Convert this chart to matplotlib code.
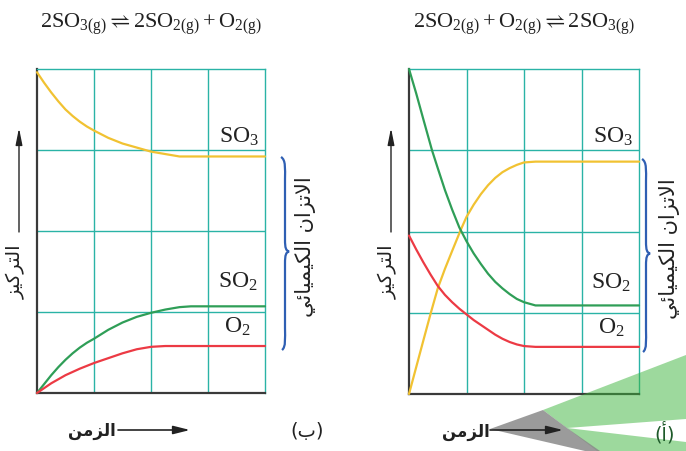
import matplotlib
matplotlib.use("Agg")
import matplotlib.pyplot as plt
from matplotlib.path import Path
from matplotlib.patches import PathPatch, Polygon

plt.rcParams['mathtext.fontset'] = 'custom'
plt.rcParams['mathtext.rm'] = 'Liberation Serif'
plt.rcParams['mathtext.it'] = 'Liberation Serif:italic'
plt.rcParams['mathtext.bf'] = 'Liberation Serif:bold'
plt.rcParams['mathtext.fallback'] = 'stix'

# ---------------- data ----------------
# panel (ب): 2SO3 -> 2SO2 + O2
b_so3_t = [0, 0.125, 0.25, 0.375, 0.5, 0.625, 0.75, 0.875, 1.0, 1.25, 1.5, 1.75, 2.0, 2.25, 2.5, 4.0]
b_so3_c = [3.96, 3.83, 3.71, 3.60, 3.50, 3.42, 3.35, 3.29, 3.24, 3.15, 3.08, 3.03, 2.98, 2.95, 2.92, 2.92]
b_so2_t = [0, 0.125, 0.25, 0.375, 0.5, 0.625, 0.75, 0.875, 1.0, 1.25, 1.5, 1.75, 2.0, 2.25, 2.5, 2.7, 4.0]
b_so2_c = [0, 0.11, 0.22, 0.32, 0.41, 0.49, 0.56, 0.62, 0.67, 0.78, 0.87, 0.94, 0.99, 1.03, 1.06, 1.07, 1.07]
b_o2_t = [0, 0.125, 0.25, 0.375, 0.5, 0.625, 0.75, 0.875, 1.0, 1.125, 1.25, 1.375, 1.5,
          1.625, 1.75, 1.875, 2.0, 2.25, 4.0]
b_o2_c = [0, 0.06, 0.12, 0.17, 0.22, 0.26, 0.30, 0.335, 0.37, 0.40, 0.43, 0.46, 0.49,
          0.515, 0.54, 0.555, 0.57, 0.58, 0.58]

# panel (أ): 2SO2 + O2 -> 2SO3
a_so3_t = [0, 0.125, 0.25, 0.38, 0.5, 0.625, 0.75, 0.9, 1.0, 1.125, 1.25, 1.375, 1.5, 1.625,
           1.75, 1.875, 2.0, 2.2, 4.0]
a_so3_c = [0, 0.33, 0.66, 1.0, 1.3, 1.54, 1.76, 2.02, 2.18, 2.33, 2.46, 2.57, 2.66, 2.73,
           2.78, 2.82, 2.85, 2.86, 2.86]
a_so2_t = [0, 0.125, 0.25, 0.4, 0.5, 0.625, 0.75, 0.875, 1.0, 1.125, 1.25, 1.375, 1.5, 1.625,
           1.75, 1.875, 2.0, 2.2, 4.0]
a_so2_c = [4.0, 3.7, 3.38, 3.0, 2.78, 2.51, 2.27, 2.05, 1.88, 1.73, 1.6, 1.48, 1.38, 1.30,
           1.23, 1.17, 1.13, 1.09, 1.09]
a_o2_t = [0, 0.125, 0.25, 0.375, 0.5, 0.625, 0.75, 0.875, 1.0, 1.125, 1.25, 1.375, 1.5, 1.625,
          1.75, 1.875, 2.0, 2.2, 4.0]
a_o2_c = [1.95, 1.78, 1.62, 1.47, 1.33, 1.22, 1.13, 1.05, 0.98, 0.91, 0.85, 0.79, 0.73, 0.68,
          0.64, 0.61, 0.59, 0.58, 0.58]

title_b = r'$\mathrm{2SO_{3(g)}\rightleftharpoons 2SO_{2(g)}+O_{2(g)}}$'
title_a = r'$\mathrm{2SO_{2(g)}+O_{2(g)}\rightleftharpoons 2SO_{3(g)}}$'
lbl_so3 = r'$\mathrm{SO_3}$'
lbl_so2 = r'$\mathrm{SO_2}$'
lbl_o2 = r'$\mathrm{O_2}$'

# Arabic (presentation forms, visual order)
txt_conc = "\uFEB0\uFEF4\uFEDB\uFEAE\uFE98\uFEDF\uFE8D"          # التركيز
txt_time = "\uFEE6\uFEE3\uFEB0\uFEDF\uFE8D"                      # الزمن
txt_eq = ("\uFEF2\uFE8B\uFE8E\uFEF4\uFEE4\uFEF4\uFEDC\uFEDF\uFE8D"
          " \uFEE5\uFE8D\uFEB0\uFE97\uFEFB\uFE8D")               # الاتزان الكيميائي
txt_b = "(\uFE8F)"
txt_a = "(\uFE83)"

YEL = '#f1c232'
GRN = '#2f9e57'
RED = '#ec3a44'
TEAL = '#2ab3a6'
BLUE = '#2f5fb3'

W, H = 686, 451
fig = plt.figure(figsize=(W / 100, H / 100), dpi=100)
fig.patch.set_facecolor('white')

def make_panel(x0, x1, y0, y1):
    ax = fig.add_axes([x0 / W, 1 - y1 / H, (x1 - x0) / W, (y1 - y0) / H])
    ax.set_xlim(0, 4)
    ax.set_ylim(0, 4)
    ax.set_xticks([])
    ax.set_yticks([])
    for v in [1, 2, 3]:
        ax.axvline(v, color=TEAL, lw=1.0, zorder=1)
        ax.axhline(v, color=TEAL, lw=1.0, zorder=1)
    for s in ['top', 'right']:
        ax.spines[s].set_color(TEAL)
        ax.spines[s].set_linewidth(1.0)
    for s in ['left', 'bottom']:
        ax.spines[s].set_color('#3a3a3a')
        ax.spines[s].set_linewidth(1.6)
    ax.patch.set_alpha(0)
    return ax

axb = make_panel(37, 265, 69, 393)
axa = make_panel(409, 639, 69, 394)

kw = dict(lw=1.6, zorder=3, clip_on=False, solid_joinstyle='round', solid_capstyle='round')
axb.plot(b_so3_t, b_so3_c, color=YEL, **kw)
axb.plot(b_so2_t, b_so2_c, color=GRN, **kw)
axb.plot(b_o2_t, b_o2_c, color=RED, **kw)

axa.plot(a_so3_t, a_so3_c, color=YEL, **kw)
axa.plot(a_so2_t, a_so2_c, color=GRN, **kw)
axa.plot(a_o2_t, a_o2_c, color=RED, **kw)

for ax in (axb, axa):
    ax.text(3.2, 3.09, lbl_so3, fontsize=17, color='#222', ha='left', va='baseline', zorder=4)
    ax.text(3.17, 1.30, lbl_so2, fontsize=17, color='#222', ha='left', va='baseline', zorder=4)
    ax.text(3.28, 0.74, lbl_o2, fontsize=17, color='#222', ha='left', va='baseline', zorder=4)

# overlay in pixel coords
ov = fig.add_axes([0, 0, 1, 1], zorder=10)
ov.set_xlim(0, W)
ov.set_ylim(H, 0)
ov.axis('off')
ov.patch.set_alpha(0)

ov.text(151, 24, title_b, fontsize=16, ha='center', va='center', color='#222')
ov.text(524, 24, title_a, fontsize=16, ha='center', va='center', color='#222')

def up_arrow(x):
    ov.annotate('', xy=(x, 128), xytext=(x, 232),
                arrowprops=dict(arrowstyle='-|>,head_length=1.0,head_width=0.2',
                                color='#222', lw=1.0, shrinkA=0, shrinkB=0))

def right_arrow(x0, x1, y):
    ov.annotate('', xy=(x1, y), xytext=(x0, y),
                arrowprops=dict(arrowstyle='-|>,head_length=1.0,head_width=0.25',
                                color='#222', lw=1.2, shrinkA=0, shrinkB=0))

def brace(x, y0, y1):
    ym = (y0 + y1) / 2 - 2
    verts = [(x - 4, y0), (x + 1, y0 + 3), (x, y0 + 12), (x, y0 + 22),
             (x, ym - 12),
             (x, ym - 3), (x + 1, ym - 1), (x + 4, ym),
             (x + 1, ym + 1), (x, ym + 3), (x, ym + 12),
             (x, y1 - 22),
             (x, y1 - 12), (x + 1, y1 - 3), (x - 3, y1)]
    codes = [Path.MOVETO, Path.CURVE4, Path.CURVE4, Path.CURVE4,
             Path.LINETO,
             Path.CURVE4, Path.CURVE4, Path.CURVE4,
             Path.CURVE4, Path.CURVE4, Path.CURVE4,
             Path.LINETO,
             Path.CURVE4, Path.CURVE4, Path.CURVE4]
    ov.add_patch(PathPatch(Path(verts, codes), fill=False, edgecolor=BLUE, lw=1.6))

ar_font = 'DejaVu Sans'

# watermark (right bottom)
ov.add_patch(Polygon([(543, 410), (686, 355), (686, 451), (597, 451)],
                     closed=True, facecolor='#3cb43c', alpha=0.5, edgecolor='none', zorder=0))
ov.add_patch(Polygon([(490, 429), (543, 410), (567, 428), (600, 451), (585, 451)],
                     closed=True, facecolor='#8a8a8a', alpha=0.85, edgecolor='none', zorder=0))
ov.add_patch(Polygon([(567, 428), (686, 419), (686, 442)],
                     closed=True, facecolor='white', edgecolor='none', zorder=0))

# left panel decorations
up_arrow(19)
ov.text(16, 272, txt_conc, rotation=90, fontsize=14, ha='center', va='center',
        family=ar_font, color='#222')
brace(285, 157, 350)
ov.text(305, 247, txt_eq, rotation=90, fontsize=15, ha='center', va='center',
        family=ar_font, color='#222')
right_arrow(118, 190, 430)
ov.text(92, 431, txt_time, fontsize=12, fontweight='bold', ha='center', va='center',
        family=ar_font, color='#222')
ov.text(307, 432, txt_b, fontsize=14, ha='center', va='center', family=ar_font, color='#222')

# right panel decorations
up_arrow(391)
ov.text(388, 272, txt_conc, rotation=90, fontsize=14, ha='center', va='center',
        family=ar_font, color='#222')
brace(646, 159, 352)
ov.text(670, 249, txt_eq, rotation=90, fontsize=15, ha='center', va='center',
        family=ar_font, color='#222')
right_arrow(490, 563, 430)
ov.text(466, 432, txt_time, fontsize=12, fontweight='bold', ha='center', va='center',
        family=ar_font, color='#222')
ov.text(665, 433, txt_a, fontsize=14, ha='center', va='center', family=ar_font, color='#1e5a2a')

fig.savefig('out.png', dpi=100, facecolor='white')
